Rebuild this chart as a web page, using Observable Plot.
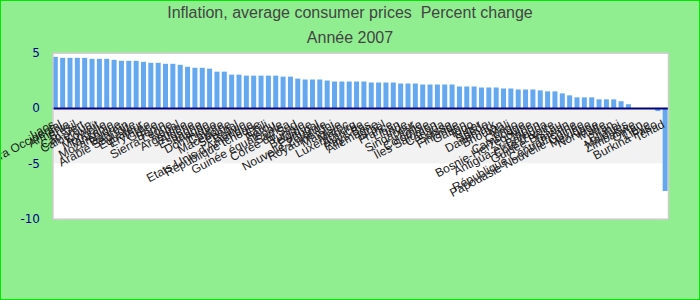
<!DOCTYPE html>
<html><head><meta charset="utf-8">
<script src="https://cdn.jsdelivr.net/npm/d3@7"></script>
<script src="https://cdn.jsdelivr.net/npm/@observablehq/plot@0.6"></script>
<style>
body{margin:0;}
#wrap{position:relative;width:700px;height:300px;background:#90ee90;border:1px solid #00e600;box-sizing:border-box;overflow:hidden;}
.t{position:absolute;left:0;width:100%;text-align:center;font-family:"Liberation Sans",Arial,sans-serif;font-size:16px;line-height:16px;color:#444;white-space:pre;}
#chart{position:absolute;left:-1px;top:-1px;}
</style></head><body>
<div id="wrap"><div id="chart"></div>
<div class="t" style="top:4px">Inflation, average consumer prices  Percent change</div>
<div class="t" style="top:29px">Année 2007</div></div>
<script>
const countries = ["Laos","Sahara Occidental","Arménie","Brésil","Cap-Vert","Cameroun","Koweït","Mongolie","Tanzanie","Mozambique",
"Bahreïn","Arabie Saoudite","Équateur","Érythrée","Grèce","Bénin","Sierra Leone","Népal","Argentine","Algérie",
"Espagne","Irlande","Dominique","Chypre","Macédoine","Sénégal","Bolivie","Etats-Unis d'Amérique","République tchèque","Chili",
"Pérou","Guinée équatoriale","Samoa","Corée du Sud","Tunisie","Belgique","Portugal","Nouvelle-Zélande","Royaume-Uni","Malaisie",
"Maroc","Luxembourg","Autriche","Pays-Bas","Allemagne","Israël","France","Liban","Inde","Singapour",
"Italie","Colombie","Îles Salomon","Canada","Suisse","Finlande","Gabon","Togo","Niger","Suède",
"Danemark","Bhoutan","Mali","Congo","Cambodge","Bosnie-Herzégovine","Japon","Antigua-et-Barbuda","Côte d'Ivoire","Guinée-Bissau",
"Taïwan","République Centrafricaine","Papouasie-Nouvelle-Guinée","Mexique","Norvège","Malte","Iran","Brunei","Maldives","Zimbabwe",
"Oman","Libye","Burkina Faso","Tchad"];
const values = [4.62,4.53,4.53,4.53,4.53,4.44,4.44,4.44,4.35,4.26,
4.26,4.26,4.17,4.08,4.08,3.99,3.99,3.9,3.72,3.63,
3.63,3.55,3.28,3.28,3.01,3.01,2.92,2.92,2.92,2.92,
2.92,2.83,2.83,2.65,2.57,2.57,2.57,2.48,2.39,2.39,
2.39,2.39,2.39,2.3,2.3,2.3,2.3,2.21,2.21,2.21,
2.12,2.12,2.12,2.12,2.12,1.94,1.94,1.94,1.85,1.85,
1.85,1.76,1.76,1.67,1.67,1.67,1.59,1.5,1.5,1.32,
1.14,0.96,0.96,0.96,0.78,0.78,0.78,0.61,0.34,0,
0,0,-0.28,-7.5];
const yTicks = [5,0,-5,-10];
const bandLow = [0];
const bandHigh = [-5];

const data = countries.map((c,i)=>({country:c, value:values[i]}));
const bands = bandLow.map((v,i)=>({y1:v, y2:bandHigh[i]}));

const chart = Plot.plot({
  width:700, height:300,
  marginLeft:52.5, marginRight:31, marginTop:52.7, marginBottom:81,
  style:{background:"transparent", overflow:"visible"},
  x:{type:"band", domain:countries, paddingInner:0.32, paddingOuter:0.05, axis:null},
  y:{domain:[-10,5], axis:null},
  marks:[
    Plot.frame({fill:"white", stroke:"none"}),
    Plot.rect(bands,{y1:"y1", y2:"y2", fill:"#f2f2f2"}),
    Plot.barY(data,{x:"country", y:"value", fill:"#64a8f0"}),
    Plot.ruleY([0],{stroke:"#000080", strokeWidth:2}),
    Plot.frame({stroke:"#cccccc", strokeWidth:1.5}),
    Plot.text(data,{x:"country", y:()=>0, text:"country", rotate:-28, textAnchor:"end", dy:15, dx:-2,
      fontSize:12, fontFamily:"Liberation Sans, Arial, sans-serif", fill:"#1a1a1a"}),
    Plot.text(yTicks,{y:d=>d, text:d=>String(d), frameAnchor:"left", textAnchor:"end", dx:-13,
      fontSize:12, fontFamily:"DejaVu Sans, sans-serif", fill:"#00008b"})
  ]
});
document.getElementById("chart").appendChild(chart);
</script>
</body></html>
